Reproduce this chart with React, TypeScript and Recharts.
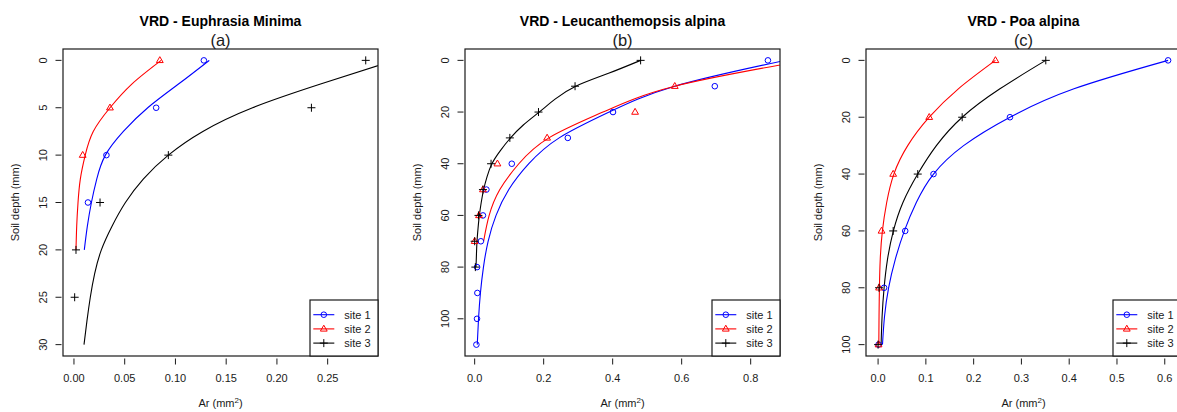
import React from 'react';
import { ComposedChart, Line, Scatter, XAxis, YAxis } from 'recharts';

// [Ar (mm2), soil depth (mm)]
const euphrasiaSite1: [number, number][] = [[0.128, 0], [0.081, 5], [0.032, 10], [0.0138, 15]];
const euphrasiaSite2: [number, number][] = [[0.0846, 0], [0.0355, 5], [0.0086, 10]];
const euphrasiaSite3: [number, number][] = [[0.2875, 0], [0.234, 5], [0.093, 10], [0.0257, 15], [0.002, 20], [0.0007, 25]];
const euphrasiaFit1: [number, number][] = [[0.1333, 0], [0.103, 2.5], [0.0727, 5], [0.0487, 7.5], [0.031, 10], [0.0225, 12.5], [0.0172, 15], [0.0132, 17.5], [0.0102, 20]];
const euphrasiaFit2: [number, number][] = [[0.0859, 0], [0.057, 2.5], [0.0355, 5], [0.019, 7.5], [0.0111, 10], [0.0063, 12.5], [0.004, 15], [0.0027, 17.5], [0.002, 20]];
const euphrasiaFit3: [number, number][] = [[0.316, 0], [0.243, 2.5], [0.176, 5], [0.127, 7.5], [0.093, 10], [0.0685, 12.5], [0.0507, 15], [0.0375, 17.5], [0.027, 20], [0.0204, 22.5], [0.0161, 25], [0.0128, 27.5], [0.0099, 30]];

const leucSite1: [number, number][] = [[0.85, 0], [0.696, 10], [0.401, 20], [0.27, 30], [0.1076, 40], [0.034, 50], [0.024, 60], [0.018, 70], [0.007, 80], [0.0078, 90], [0.0068, 100], [0.005, 110]];
const leucSite2: [number, number][] = [[0.58, 10], [0.465, 20], [0.21, 30], [0.066, 40], [0.024, 50], [0.0126, 60], [0, 70]];
const leucSite3: [number, number][] = [[0.481, 0], [0.291, 10], [0.185, 20], [0.102, 30], [0.0475, 40], [0.024, 50], [0.011, 60], [0, 70], [0.002, 80]];
const leucFit1: [number, number][] = [[0.9, 0], [0.58, 10], [0.39, 20], [0.245, 30], [0.157, 40], [0.099, 50], [0.062, 60], [0.039, 70], [0.0255, 80], [0.0167, 90], [0.0112, 100], [0.0075, 110]];
const leucFit2: [number, number][] = [[0.96, 0], [0.58, 10], [0.372, 20], [0.215, 30], [0.128, 40], [0.073, 50], [0.042, 60], [0.026, 70]];
const leucFit3: [number, number][] = [[0.481, 0], [0.388, 5], [0.293, 10], [0.233, 15], [0.187, 20], [0.141, 25], [0.104, 30], [0.074, 35], [0.05, 40], [0.036, 45], [0.026, 50], [0.019, 55], [0.0136, 60], [0.0098, 65], [0.0068, 70], [0.0052, 75], [0.0039, 80]];

const poaSite1: [number, number][] = [[0.607, 0], [0.276, 20], [0.116, 40], [0.0568, 60], [0.0126, 80], [0.001, 100]];
const poaSite2: [number, number][] = [[0.2456, 0], [0.107, 20], [0.0316, 40], [0.0072, 60], [0.0021, 80], [0.001, 100]];
const poaSite3: [number, number][] = [[0.351, 0], [0.176, 20], [0.083, 40], [0.0316, 60], [0.002, 80], [0, 100]];
const poaFit1: [number, number][] = [[0.607, 0], [0.41, 10], [0.276, 20], [0.179, 30], [0.116, 40], [0.08, 50], [0.055, 60], [0.036, 70], [0.022, 80], [0.0135, 90], [0.0092, 100]];
const poaFit2: [number, number][] = [[0.2456, 0], [0.168, 10], [0.107, 20], [0.062, 30], [0.033, 40], [0.018, 50], [0.009, 60], [0.0045, 70], [0.0028, 80], [0.002, 90], [0.0015, 100]];
const poaFit3: [number, number][] = [[0.351, 0], [0.255, 10], [0.176, 20], [0.122, 30], [0.083, 40], [0.052, 50], [0.032, 60], [0.0197, 70], [0.0126, 80], [0.0084, 90], [0.0063, 100]];

const siteNames = ['site 1', 'site 2', 'site 3'];
const siteColors = ['#0000FF', '#FF0000', '#000000'];
const siteShapes = ['circle', 'triangle', 'plus'];

const FONT = '"Liberation Sans", Arial, Helvetica, sans-serif';
const INK = '#1a1a1a';
const CW = 401;
const CH = 412;
const M = { top: 49, right: 23, bottom: 16, left: 23 };
const YW = 40;
const XH = 40;
const PL = M.left + YW;
const PT = M.top;
const PW = CW - PL - M.right;
const PH = CH - PT - M.bottom - XH;

type Pt = { ar: number; depth: number };
const toPts = (a: [number, number][]): Pt[] => a.map(([ar, depth]) => ({ ar, depth }));
const byDepth = (a: [number, number][]): Pt[] => toPts(a).sort((p, q) => p.depth - q.depth);

function Marker({ shape, color, cx, cy }: { shape: string; color: string; cx: number; cy: number }) {
  if (shape === 'circle') return <circle cx={cx} cy={cy} r={2.8} fill="none" stroke={color} strokeWidth={1} />;
  if (shape === 'triangle')
    return <polygon points={`${cx},${cy - 3.7} ${cx - 3.4},${cy + 2.2} ${cx + 3.4},${cy + 2.2}`} fill="none" stroke={color} strokeWidth={1} />;
  return (
    <g stroke={color} strokeWidth={1}>
      <line x1={cx - 4} x2={cx + 4} y1={cy} y2={cy} />
      <line x1={cx} x2={cx} y1={cy - 4} y2={cy + 4} />
    </g>
  );
}

type PanelProps = {
  left: number;
  title: string;
  tag: string;
  xDomain: [number, number];
  yDomain: [number, number];
  xTicks: number[];
  yTicks: number[];
  digits: number;
  sites: [number, number][][];
  fits: [number, number][][];
};

function Panel({ left, title, tag, xDomain, yDomain, xTicks, yTicks, digits, sites, fits }: PanelProps) {
  const xTick = (props: any) => {
    const { x, y, payload } = props;
    return (
      <g>
        <line x1={x} x2={x} y1={y + 2.5} y2={y + 8.5} stroke={INK} />
        <text x={x} y={y + 26.3} textAnchor="middle" fontSize={11} fill={INK} fontFamily={FONT}>
          {Number(payload.value).toFixed(digits)}
        </text>
      </g>
    );
  };
  const yTick = (props: any) => {
    const { x, y, payload } = props;
    return (
      <g>
        <line x1={x - 7.5} x2={x - 1.5} y1={y} y2={y} stroke={INK} />
        <text x={x - 20} y={y} transform={`rotate(-90, ${x - 20}, ${y})`} textAnchor="middle" dominantBaseline="central" fontSize={11} fill={INK} fontFamily={FONT}>
          {payload.value}
        </text>
      </g>
    );
  };

  const lx = PL + PW - 68;
  const ly = PT + PH - 56;

  return (
    <div style={{ position: 'absolute', left, top: 0, width: CW, height: CH }}>
      <ComposedChart width={CW} height={CH} margin={M}>
        <XAxis type="number" dataKey="ar" domain={xDomain} allowDataOverflow ticks={xTicks} interval={0} height={XH} axisLine={false} tickLine={false} tickSize={0} tickMargin={0} tick={xTick} />
        <YAxis type="number" dataKey="depth" domain={yDomain} allowDataOverflow reversed ticks={yTicks} interval={0} width={YW} axisLine={false} tickLine={false} tickSize={0} tickMargin={0} tick={yTick} />
        {fits.map((f, i) => (
          <Line key={`fit${i}`} data={byDepth(f)} dataKey="depth" type="natural" stroke={siteColors[i]} strokeWidth={1.1} dot={false} activeDot={false} isAnimationActive={false} />
        ))}
        {sites.map((s, i) => (
          <Scatter
            key={`site${i}`}
            data={toPts(s)}
            dataKey="depth"
            isAnimationActive={false}
            shape={(p: any) => <Marker shape={siteShapes[i]} color={siteColors[i]} cx={p.cx} cy={p.cy} />}
          />
        ))}
      </ComposedChart>
      <svg width={CW} height={CH} style={{ position: 'absolute', left: 0, top: 0, pointerEvents: 'none' }} fontFamily={FONT}>
        <rect x={PL} y={PT} width={PW} height={PH} fill="none" stroke={INK} strokeWidth={1.2} />
        <text x={PL + PW / 2} y={25.7} textAnchor="middle" fontSize={14} fontWeight="bold" fill="#000">{title}</text>
        <text x={PL + PW / 2} y={45.5} textAnchor="middle" fontSize={16.5} fill={INK}>{tag}</text>
        <text x={PL + PW / 2} y={407} textAnchor="middle" fontSize={11} fill={INK}>
          Ar (mm<tspan dy={-4.5} fontSize={8}>2</tspan><tspan dy={4.5}>)</tspan>
        </text>
        <text x={15} y={PT + PH / 2} transform={`rotate(-90, 15, ${PT + PH / 2})`} textAnchor="middle" dominantBaseline="central" fontSize={11} fill={INK}>
          Soil depth (mm)
        </text>
        <rect x={lx} y={ly} width={68} height={56} fill="#fff" stroke={INK} strokeWidth={1.2} />
        {siteNames.map((n, i) => {
          const ry = ly + 14.7 + i * 14.2;
          return (
            <g key={n}>
              <line x1={lx + 3.3} x2={lx + 24.3} y1={ry} y2={ry} stroke={siteColors[i]} strokeWidth={1.1} />
              <Marker shape={siteShapes[i]} color={siteColors[i]} cx={lx + 13.8} cy={ry} />
              <text x={lx + 34.3} y={ry + 4} fontSize={11} fill={INK}>{n}</text>
            </g>
          );
        })}
      </svg>
    </div>
  );
}

export default function App() {
  return (
    <div style={{ position: 'fixed', left: 0, top: 0, width: 1177, height: 412, background: '#fff', overflow: 'hidden' }}>
      <Panel
        left={0}
        title="VRD - Euphrasia Minima"
        tag="(a)"
        xDomain={[-0.0108, 0.2996]}
        yDomain={[-1.2, 31.2]}
        xTicks={[0, 0.05, 0.1, 0.15, 0.2, 0.25]}
        yTicks={[0, 5, 10, 15, 20, 25, 30]}
        digits={2}
        sites={[euphrasiaSite1, euphrasiaSite2, euphrasiaSite3]}
        fits={[euphrasiaFit1, euphrasiaFit2, euphrasiaFit3]}
      />
      <Panel
        left={402.3}
        title="VRD - Leucanthemopsis alpina"
        tag="(b)"
        xDomain={[-0.028, 0.885]}
        yDomain={[-4.4, 114.4]}
        xTicks={[0, 0.2, 0.4, 0.6, 0.8]}
        yTicks={[0, 20, 40, 60, 80, 100]}
        digits={1}
        sites={[leucSite1, leucSite2, leucSite3]}
        fits={[leucFit1, leucFit2, leucFit3]}
      />
      <Panel
        left={803.3}
        title="VRD - Poa alpina"
        tag="(c)"
        xDomain={[-0.0253, 0.634]}
        yDomain={[-4, 104]}
        xTicks={[0, 0.1, 0.2, 0.3, 0.4, 0.5, 0.6]}
        yTicks={[0, 20, 40, 60, 80, 100]}
        digits={1}
        sites={[poaSite1, poaSite2, poaSite3]}
        fits={[poaFit1, poaFit2, poaFit3]}
      />
    </div>
  );
}
